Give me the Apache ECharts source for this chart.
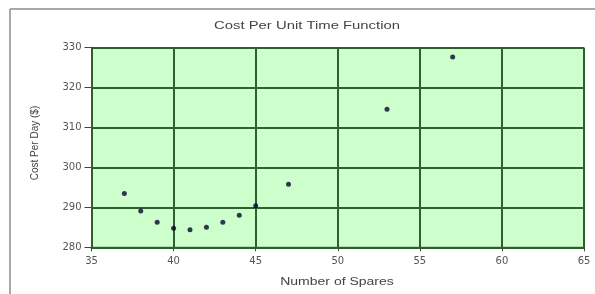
<!DOCTYPE html>
<html>
<head>
<meta charset="utf-8">
<script src="https://cdn.jsdelivr.net/npm/echarts@6/dist/echarts.min.js"></script>
<style>
html,body{margin:0;padding:0;background:#fff;}
#c{width:595px;height:294px;}
</style>
</head>
<body>
<div id="c"></div>
<script>
const spares = [37, 38, 39, 40, 41, 42, 43, 44, 45, 47, 53, 57];
const costPerDay = [293.5, 289.1, 286.3, 284.8, 284.4, 285.0, 286.3, 288.0, 290.4, 295.8, 314.6, 327.7];
const chartTitle = 'Cost Per Unit Time Function';
const xName = 'Number of Spares';
const yName = 'Cost Per Day ($)';

const chart = echarts.init(document.getElementById('c'), null, {renderer: 'canvas'});
const gridLine = {show: true, lineStyle: {color: '#2f5e2f', width: 2}};
const txt = (text, x, y, size, sx, rot) => ({
  type: 'text', x: x, y: y, scaleX: sx, rotation: rot || 0,
  style: {text: text, x: 0, y: 0, textAlign: 'center', textVerticalAlign: 'middle',
    fontFamily: 'Liberation Sans', fontSize: size, fill: '#444'}
});
chart.setOption({
  animation: false,
  backgroundColor: '#fff',
  graphic: [
    {type: 'line', shape: {x1: 10, y1: 9, x2: 595, y2: 9}, style: {stroke: '#a8a8a8', lineWidth: 2}},
    {type: 'line', shape: {x1: 10, y1: 9, x2: 10, y2: 294}, style: {stroke: '#a8a8a8', lineWidth: 2}},
    txt(chartTitle, 307, 26, 11, 1.35),
    txt(xName, 337, 282, 10, 1.4),
    txt(yName, 35, 143, 10, 1, Math.PI / 2)
  ],
  grid: {left: 91.5, right: 11, top: 47.7, bottom: 46.7, show: true, backgroundColor: '#ccffcc', borderColor: '#2f5e2f', borderWidth: 1},
  xAxis: {
    type: 'value', min: 35, max: 65, interval: 5,
    axisLine: {show: true, lineStyle: {color: '#2f5e2f', width: 2}},
    axisTick: {show: true, length: 4, inside: false, lineStyle: {color: '#444'}},
    axisLabel: {fontFamily: 'DejaVu Sans', fontSize: 10, color: '#555', margin: 9},
    splitLine: gridLine
  },
  yAxis: {
    type: 'value', min: 280, max: 330, interval: 10,
    axisLine: {show: true, lineStyle: {color: '#2f5e2f', width: 2}},
    axisTick: {show: true, length: 7, inside: false, lineStyle: {color: '#444'}},
    axisLabel: {fontFamily: 'DejaVu Sans', fontSize: 10, color: '#555', margin: 10},
    splitLine: gridLine
  },
  series: [{
    type: 'scatter',
    data: spares.map((x, i) => [x, costPerDay[i]]),
    symbol: 'circle', symbolSize: 5,
    itemStyle: {color: '#05052e'}
  }]
});
</script>
</body>
</html>
